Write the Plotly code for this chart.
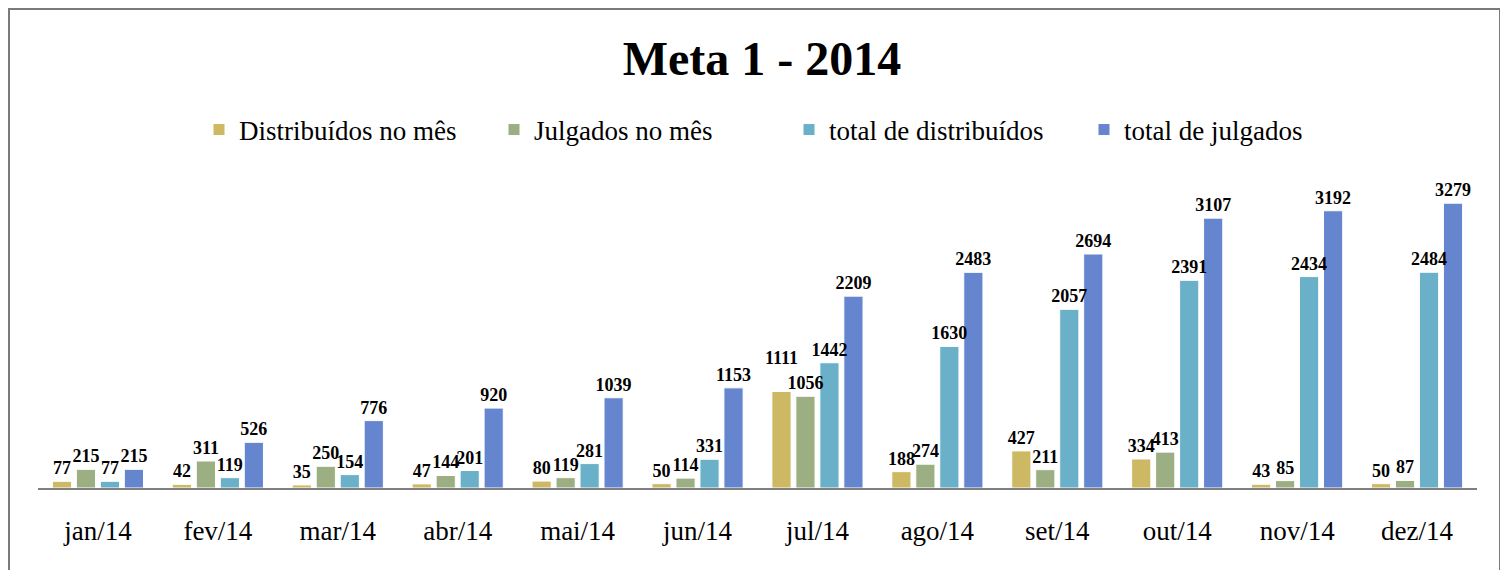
import plotly.graph_objects as go

months = ["jan/14", "fev/14", "mar/14", "abr/14", "mai/14", "jun/14",
          "jul/14", "ago/14", "set/14", "out/14", "nov/14", "dez/14"]
distribuidos_mes = [77, 42, 35, 47, 80, 50, 1111, 188, 427, 334, 43, 50]
julgados_mes = [215, 311, 250, 144, 119, 114, 1056, 274, 211, 413, 85, 87]
total_distribuidos = [77, 119, 154, 201, 281, 331, 1442, 1630, 2057, 2391, 2434, 2484]
total_julgados = [215, 526, 776, 920, 1039, 1153, 2209, 2483, 2694, 3107, 3192, 3279]

series = [
    ("Distribuídos no mês", distribuidos_mes, "#CDB864"),
    ("Julgados no mês", julgados_mes, "#9BAF82"),
    ("total de distribuídos", total_distribuidos, "#6AB0C8"),
    ("total de julgados", total_julgados, "#6585CF"),
]

SERIF = "Palatino Linotype, Book Antiqua, Liberation Serif, DejaVu Serif, serif"

fig = go.Figure()
# bars
for i, (name, vals, color) in enumerate(series):
    fig.add_trace(go.Bar(
        name=name, x=months, y=vals, offsetgroup=str(i),
        marker=dict(color=color, line=dict(color="white", width=1)),
        hoverinfo="x+y+name",
    ))


def label_templates(vals, neighbour):
    # lift a label slightly when it would collide with the next series' label
    out = []
    for v, n in zip(vals, neighbour):
        if v >= 1000 and n >= 1000 and abs(v - n) < 200:
            out.append("%{text}<br><span style='font-size:4px'> </span>")
        else:
            out.append("%{text}")
    return out


neighbours = [julgados_mes, total_distribuidos, total_julgados, [0] * len(months)]
# data labels drawn on top of all bars (transparent overlay in same offset group)
for i, (name, vals, color) in enumerate(series):
    fig.add_trace(go.Bar(
        name=name, x=months, y=vals, offsetgroup=str(i), showlegend=False,
        marker=dict(color="rgba(0,0,0,0)", line=dict(width=0)),
        text=vals, texttemplate=label_templates(vals, neighbours[i]),
        textposition="outside", constraintext="none",
        textfont=dict(family=SERIF, size=18, color="black", weight="bold"),
        cliponaxis=False, hoverinfo="skip",
    ))

W, H = 1508, 570
L, R, T, B = 30, 39, 176, 90
PW = W - L - R
PH = H - T - B
fig.update_layout(
    width=W, height=H,
    margin=dict(l=L, r=R, t=T, b=B),
    paper_bgcolor="white", plot_bgcolor="white",
    barmode="group", bargap=0.2, bargroupgap=0.2,
    title=dict(text="<b>Meta 1 - 2014</b>", x=0.5, xanchor="center",
               y=1 - 50 / H, yanchor="middle",
               font=dict(family=SERIF, size=48, color="black")),
    legend=dict(orientation="h", x=(191 - L) / PW, xanchor="left",
                y=(PH + T - 122) / PH, yanchor="middle",
                entrywidth=250, entrywidthmode="pixels",
                font=dict(family=SERIF, size=27, color="black")),
    xaxis=dict(showline=True, linecolor="#7f7f7f", linewidth=2,
               ticks="", tickfont=dict(family=SERIF, size=27, color="black"),
               ticklabelstandoff=18, showgrid=False),
    yaxis=dict(range=[0, 3500], visible=False, showgrid=False),
    showlegend=True,
    shapes=[dict(type="rect", xref="paper", yref="paper",
                 x0=(1 - L) / PW, x1=(1492 - L) / PW,
                 y0=-0.5, y1=(PH + T - 1) / PH,
                 line=dict(color="#7a7a7a", width=2), fillcolor="rgba(0,0,0,0)")],
)

fig.write_html("out.html")
